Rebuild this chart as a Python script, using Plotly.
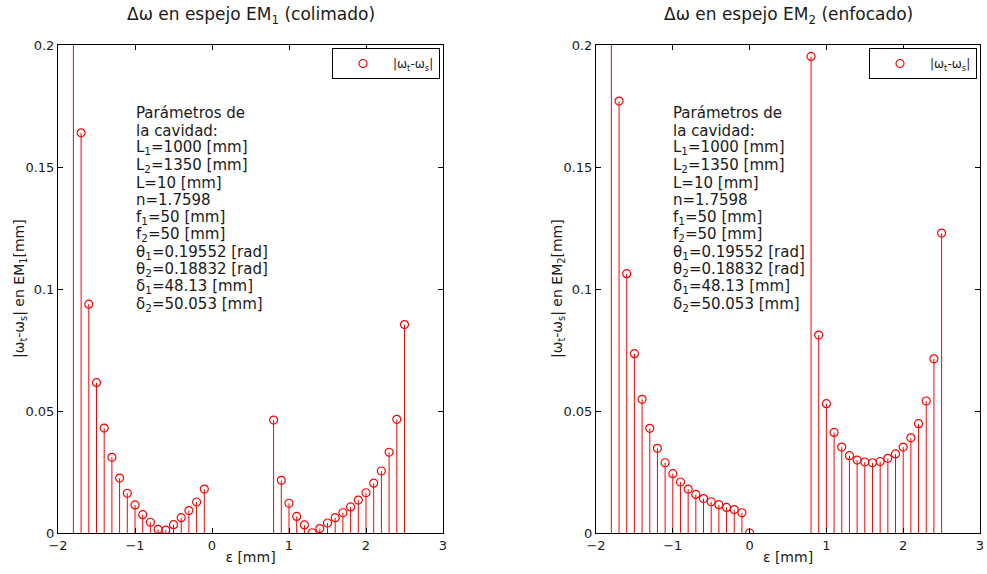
import plotly.graph_objects as go

# ---- data ----
eps_left = [-1.8, -1.7, -1.6, -1.5, -1.4, -1.3, -1.2, -1.1, -1.0, -0.9, -0.8, -0.7, -0.6, -0.5, -0.4, -0.3, -0.2, -0.1,
            0.8, 0.9, 1.0, 1.1, 1.2, 1.3, 1.4, 1.5, 1.6, 1.7, 1.8, 1.9, 2.0, 2.1, 2.2, 2.3, 2.4, 2.5]
dw_left = [0.26, 0.164, 0.0938, 0.0616, 0.0430, 0.0310, 0.0225, 0.0163, 0.0115, 0.0075, 0.0044, 0.0015, 0.0012,
           0.0034, 0.0063, 0.0092, 0.0127, 0.0180,
           0.0463, 0.0216, 0.0122, 0.0068, 0.0033, 0.0001, 0.0018, 0.0041, 0.0063, 0.0083, 0.0107, 0.0135,
           0.0165, 0.0204, 0.0254, 0.0331, 0.0466, 0.0854]

eps_right = [-1.8, -1.7, -1.6, -1.5, -1.4, -1.3, -1.2, -1.1, -1.0, -0.9, -0.8, -0.7, -0.6, -0.5, -0.4, -0.3, -0.2, -0.1, 0.0,
             0.8, 0.9, 1.0, 1.1, 1.2, 1.3, 1.4, 1.5, 1.6, 1.7, 1.8, 1.9, 2.0, 2.1, 2.2, 2.3, 2.4, 2.5]
dw_right = [0.28, 0.177, 0.1063, 0.0735, 0.0548, 0.0429, 0.0347, 0.0288, 0.0243, 0.0209, 0.0180, 0.0158, 0.0141,
            0.0128, 0.0116, 0.0105, 0.0096, 0.0083, 0.0,
            0.1953, 0.0811, 0.0530, 0.0412, 0.0352, 0.0317, 0.0299, 0.0291, 0.0288, 0.0293, 0.0306, 0.0324,
            0.0352, 0.0390, 0.0448, 0.0541, 0.0714, 0.1229]

x_ticks = [-2, -1, 0, 1, 2, 3]
y_ticks = [0, 0.05, 0.1, 0.15, 0.2]
y_tick_text = ["0", "0.05", "0.1", "0.15", "0.2"]

params = ["Parámetros de", "la cavidad:", "L<sub>1</sub>=1000 [mm]", "L<sub>2</sub>=1350 [mm]", "L=10 [mm]",
          "n=1.7598", "f<sub>1</sub>=50 [mm]", "f<sub>2</sub>=50 [mm]", "θ<sub>1</sub>=0.19552 [rad]",
          "θ<sub>2</sub>=0.18832 [rad]", "δ<sub>1</sub>=48.13 [mm]", "δ<sub>2</sub>=50.053 [mm]"]

titles = ["Δω en espejo EM<sub>1</sub> (colimado)", "Δω en espejo EM<sub>2</sub> (enfocado)"]
ytitles = ["|ω<sub>t</sub>-ω<sub>s</sub>| en EM<sub>1</sub>[mm]", "|ω<sub>t</sub>-ω<sub>s</sub>| en EM<sub>2</sub>[mm]"]
legend_name = "|ω<sub>t</sub>-ω<sub>s</sub>|"

W, H = 987, 574
FONT = "DejaVu Sans"
RED = "#ff0000"
TXT = "#1a1a1a"

def px_x(p):
    return p / W

def px_y(p):
    return 1 - p / H

fig = go.Figure()

def stems(xs, ys):
    sx, sy = [], []
    for x, y in zip(xs, ys):
        sx += [x, x, None]
        sy += [0, y, None]
    return sx, sy

panels = [
    dict(xs=eps_left, ys=dw_left, xa="x", ya="y", dom=(58, 443), leg="legend", text_x=135, ytx=20),
    dict(xs=eps_right, ys=dw_right, xa="x2", ya="y2", dom=(596, 980), leg="legend2", text_x=672, ytx=558),
]

for i, p in enumerate(panels):
    sx, sy = stems(p["xs"], p["ys"])
    fig.add_trace(go.Scatter(x=sx, y=sy, mode="lines", line=dict(color=RED, width=1),
                             xaxis=p["xa"], yaxis=p["ya"], showlegend=False, hoverinfo="skip"))
    fig.add_trace(go.Scatter(x=p["xs"], y=p["ys"], mode="markers", name=legend_name,
                             marker=dict(symbol="circle-open", size=8, color=RED, line=dict(width=1.2, color=RED)),
                             xaxis=p["xa"], yaxis=p["ya"], legend=p["leg"], showlegend=True))

axis_common = dict(showline=True, linecolor="black", linewidth=1, mirror="ticks", ticks="inside",
                   ticklen=5, tickcolor="black", showgrid=False, zeroline=False, automargin=False,
                   tickfont=dict(family=FONT, size=13, color=TXT))

fig.update_layout(
    width=W, height=H, margin=dict(l=0, r=0, t=0, b=0, autoexpand=False),
    paper_bgcolor="white", plot_bgcolor="white",
    font=dict(family=FONT, color=TXT),
)

for i, p in enumerate(panels):
    sfx = "" if i == 0 else "2"
    dom = [px_x(p["dom"][0]), px_x(p["dom"][1])]
    fig.update_layout(**{
        "xaxis" + sfx: dict(domain=dom, range=[-2, 3], tickvals=x_ticks, anchor="y" + sfx,
                            title=dict(text="ε [mm]", font=dict(family=FONT, size=14, color=TXT), standoff=0),
                            **axis_common),
        "yaxis" + sfx: dict(domain=[px_y(533), px_y(45)], range=[0, 0.2], tickvals=y_ticks,
                            ticktext=y_tick_text, anchor="x" + sfx, **axis_common),
    })
    fig.update_layout(**{
        p["leg"]: dict(x=px_x(p["dom"][1] - 3), y=px_y(48), xanchor="right", yanchor="top",
                       bordercolor="black", borderwidth=1, bgcolor="white", itemwidth=50,
                       font=dict(family=FONT, size=12, color=TXT))
    })
    cx = (p["dom"][0] + p["dom"][1]) / 2
    fig.add_annotation(x=px_x(cx), y=px_y(16), xref="paper", yref="paper", text=titles[i],
                       showarrow=False, xanchor="center", yanchor="middle",
                       font=dict(family=FONT, size=17, color=TXT))
    fig.add_annotation(x=px_x(p["ytx"]), y=px_y(289), xref="paper", yref="paper", text=ytitles[i],
                       showarrow=False, xanchor="center", yanchor="middle", textangle=-90,
                       font=dict(family=FONT, size=14, color=TXT))
    for k, line in enumerate(params):
        fig.add_annotation(x=px_x(p["text_x"] - 1), y=px_y(113.3 + k * 17.34), xref="paper", yref="paper",
                           text=line, showarrow=False, xanchor="left", yanchor="middle",
                           font=dict(family=FONT, size=15, color=TXT))

fig.write_html("out.html")
